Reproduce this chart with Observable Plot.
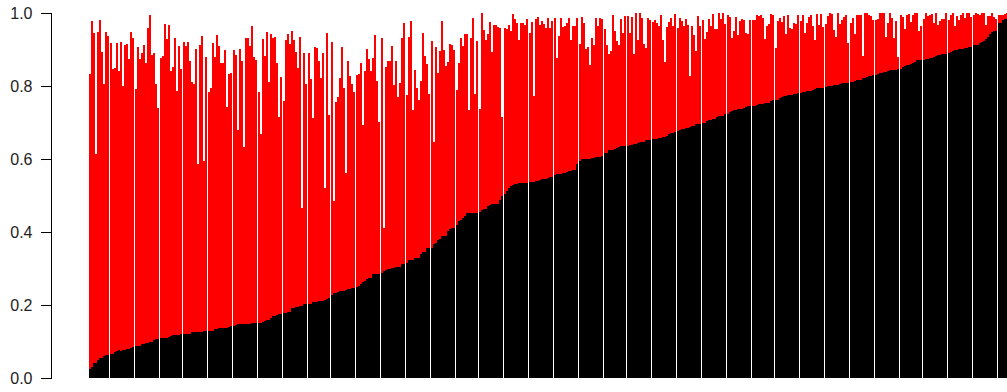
<!DOCTYPE html>
<html>
<head>
<meta charset="utf-8">
<script src="https://cdn.jsdelivr.net/npm/d3@7"></script>
<script src="https://cdn.jsdelivr.net/npm/@observablehq/plot@0.6"></script>
<style>
  html, body { margin: 0; padding: 0; background: #fff; }
  #chart svg { display: block; }
</style>
</head>
<body>
<div id="chart"></div>
<script>
// Lower (black) share of each bar, sorted ascending
const blackShare = [
  0.024,0.030,0.041,0.041,0.048,0.055,0.055,0.059,0.063,0.063,
  0.066,0.066,0.071,0.075,0.077,0.075,0.077,0.077,0.080,0.080,0.082,0.085,
  0.088,0.088,0.088,0.093,0.093,0.096,0.096,0.099,0.099,0.104,0.107,0.107,
  0.110,0.110,0.110,0.110,0.113,0.115,0.118,0.118,0.118,0.118,0.121,0.121,
  0.121,0.121,0.121,0.126,0.126,0.126,0.126,0.126,0.126,0.129,0.129,
  0.129,0.129,0.129,0.135,0.135,0.137,0.137,0.137,0.137,0.137,0.140,0.143,
  0.143,0.146,0.148,0.148,
  0.148,0.148,0.148,0.148,0.148,0.150,0.151,0.151,
  0.151,0.151,0.154,0.157,0.159,0.159,0.165,0.170,0.170,0.173,0.176,0.176,
  0.179,0.179,0.181,0.181,0.192,0.192,0.195,0.195,0.198,0.198,0.203,0.203,
  0.203,0.203,0.209,0.209,0.209,0.212,0.212,0.212,0.214,0.217,0.220,
  0.228,0.234,0.234,0.236,0.239,0.239,0.239,0.242,0.245,0.245,0.247,0.247,
  0.250,0.253,0.258,0.264,0.267,0.272,0.275,0.275,0.286,0.286,0.286,0.286,
  0.289,0.294,0.297,0.300,0.300,0.302,0.302,
  0.305,0.305,0.305,0.311,0.311,
  0.316,0.322,0.322,0.324,0.330,0.330,0.330,0.341,0.344,0.346,0.355,0.357,
  0.357,0.366,0.371,0.379,0.382,0.388,0.388,0.390,0.404,0.407,0.410,
  0.412,0.418,0.429,0.434,0.437,0.445,0.451,0.451,0.453,0.453,0.453,0.453,
  0.456,0.459,0.462,0.462,0.470,0.473,0.476,0.476,0.478,0.478,0.489,0.498,
  0.503,0.511,0.520,0.525,0.528,0.531,0.531,0.533,0.533,0.533,0.533,0.535,
  0.536,0.538,0.538,0.539,0.539,0.542,0.544,0.544,0.546,
  0.548,0.550,0.550,
  0.555,0.558,0.558,0.558,0.561,0.561,0.564,0.566,0.566,0.569,0.569,
  0.586,0.594,0.599,0.600,0.600,0.601,0.601,0.602,0.602,0.605,0.605,0.605,
  0.608,0.616,0.616,0.624,0.624,0.624,0.627,0.630,0.632,0.635,0.635,0.635,
  0.635,0.638,0.638,0.641,0.641,0.643,0.646,0.646,0.646,0.652,0.652,0.652,
  0.654,0.654,0.654,0.657,0.657,0.660,0.660,0.663,0.668,0.671,0.671,0.674,
  0.676,0.679,0.682,0.682,0.685,0.685,0.687,0.690,0.690,0.696,0.696,
  0.696,0.698,0.698,0.704,0.707,0.707,0.709,0.709,0.715,0.718,0.718,0.718,
  0.723,0.723,0.729,0.731,0.734,0.734,0.737,0.737,0.737,0.740,0.742,0.745,
  0.745,0.745,0.745,0.748,0.751,0.751,0.751,0.753,0.753,0.753,0.759,0.762,
  0.762,0.762,0.767,0.770,0.773,0.773,0.775,0.775,0.775,0.778,0.778,0.781,
  0.781,0.784,0.784,0.786,0.786,0.786,0.789,0.792,0.795,0.795,0.795,0.795,
  0.797,0.800,0.800,0.800,0.803,0.803,0.803,0.806,0.808,0.808,0.808,
  0.808,0.811,0.811,
  0.814,0.816,0.816,0.816,0.822,0.822,0.825,0.828,0.828,
  0.830,0.830,0.833,0.836,0.836,0.839,0.839,0.841,0.844,0.844,0.844,0.844,
  0.847,0.847,0.852,0.855,0.858,0.858,0.861,0.863,0.866,0.872,0.872,0.872,
  0.872,0.874,0.874,0.877,0.877,0.880,0.883,0.885,0.885,0.888,0.888,0.888,
  0.891,0.894,0.896,0.899,0.899,0.902,0.902,0.902,0.905,0.905,0.907,
  0.907,0.913,0.913,0.913,0.918,0.921,0.924,0.929,0.935,0.943,0.949,0.951,
  0.951,0.973,0.973,0.982,0.984,0.984
];

// Top of the red segment (black + red) for each bar
const redTop = [
  0.833,0.979,0.944,0.613,0.949,0.982,0.894,0.806,0.949,0.938,
  0.918,0.847,0.850,0.918,0.841,0.921,0.800,0.913,0.916,0.874,0.949,0.932,
  0.792,0.907,0.874,0.891,0.913,0.863,0.960,0.995,0.885,0.891,0.806,0.740,
  0.877,0.883,0.971,0.929,0.968,0.841,0.852,0.932,0.786,0.910,0.847,0.921,
  0.910,0.921,0.869,0.811,0.806,0.902,0.586,0.913,0.938,0.594,0.880,
  0.784,0.795,0.918,0.880,0.940,0.910,0.863,0.863,0.899,0.742,0.833,0.836,
  0.899,0.885,0.679,0.902,
  0.869,0.632,0.932,0.932,0.910,0.965,0.880,0.872,
  0.783,0.669,0.929,0.883,0.949,0.811,0.943,0.932,0.935,0.863,0.715,0.825,
  0.759,0.927,0.943,0.916,0.951,0.927,0.894,0.850,0.935,0.465,0.891,0.806,
  0.891,0.819,0.712,0.908,0.905,0.869,0.822,0.891,0.520,0.946,0.720,
  0.921,0.484,0.756,0.770,0.822,0.907,0.795,0.561,0.869,0.828,0.806,0.784,
  0.830,0.833,0.863,0.693,0.841,0.902,0.874,0.841,0.877,0.940,0.814,0.701,
  0.932,0.412,0.852,0.869,0.869,0.910,0.803,
  0.869,0.770,0.808,0.932,0.973,
  0.775,0.935,0.979,0.734,0.844,0.795,0.762,0.814,0.946,0.883,0.861,0.778,
  0.924,0.646,0.907,0.836,0.896,0.979,0.899,0.855,0.866,0.916,0.913,
  0.899,0.789,0.863,0.932,0.910,0.943,0.943,0.734,0.932,0.987,0.778,0.924,
  0.737,1.000,0.954,0.927,0.943,0.976,0.894,0.968,0.968,0.962,0.960,0.715,
  0.960,0.957,0.968,0.951,0.998,0.984,0.973,0.927,0.973,0.973,0.968,0.984,
  0.946,0.976,0.773,0.984,0.990,0.968,0.979,0.971,0.960,
  0.987,0.960,0.979,
  0.987,0.877,0.938,0.987,0.962,0.965,0.973,0.987,0.927,0.965,0.965,
  0.987,0.916,0.990,0.973,0.902,0.907,0.858,0.932,0.913,0.987,0.965,0.987,
  0.984,0.957,0.913,0.888,0.896,0.995,0.951,0.924,0.913,0.984,0.946,0.993,
  0.993,0.946,0.990,0.888,1.000,0.927,1.000,0.987,0.916,0.905,0.987,0.982,
  0.976,0.982,0.973,0.965,0.995,0.927,0.866,0.962,0.976,0.987,0.965,0.998,
  0.960,0.987,0.979,0.965,0.984,0.968,0.828,0.965,0.940,0.896,0.993,
  0.965,0.982,0.929,0.949,0.984,0.965,0.998,0.957,0.957,1.000,0.984,1.000,
  0.971,0.995,0.990,0.932,0.951,0.990,0.940,0.979,0.984,0.982,0.946,0.943,
  0.982,0.982,0.982,0.995,0.993,0.995,0.987,0.929,0.965,0.971,0.998,0.995,
  0.905,0.979,0.987,0.976,0.993,0.943,0.995,0.960,0.957,0.973,0.971,0.995,
  0.979,0.995,0.946,0.973,0.990,0.995,0.965,0.927,0.998,0.968,0.998,0.962,
  0.971,0.993,1.000,0.998,0.954,0.935,1.000,0.971,0.982,0.990,0.995,
  0.918,0.973,0.987,
  0.943,0.995,0.995,0.995,0.883,1.000,1.000,0.995,0.993,
  0.982,0.982,0.984,1.000,1.000,1.000,0.935,0.973,1.000,0.987,0.932,0.979,
  0.880,0.995,0.990,0.957,0.995,0.998,0.976,0.995,1.000,1.000,0.951,0.965,
  0.984,1.000,0.993,0.995,0.998,0.973,1.000,0.968,0.979,0.984,0.984,1.000,
  0.982,0.995,1.000,0.965,0.993,0.982,0.995,1.000,0.987,1.000,1.000,
  0.990,0.995,1.000,0.998,0.995,1.000,1.000,0.968,0.993,0.993,1.000,0.990,
  0.984,0.995,0.995,0.995,0.998,1.000
];

const yTicks = [0, 0.2, 0.4, 0.6, 0.8, 1.0];

if (blackShare.length !== redTop.length) throw new Error("length mismatch " + blackShare.length + " vs " + redTop.length);

const rows = blackShare.map((v, i) => ({ i, lo: v, hi: redTop[i] }));
const n = rows.length;

// bar layout (2px bars with a tiny gap, like the raster original)
const step = 2.0845, gap = 0.0845, start = 88.7;

const chart = Plot.plot({
  width: 1007,
  height: 392,
  marginLeft: 51,
  marginRight: 0,
  marginTop: 13,
  marginBottom: 14,
  style: { fontFamily: "'Liberation Sans', Arial, Helvetica, sans-serif", fontSize: "16px", background: "#fff", color: "#000" },
  x: { type: "band", domain: d3.range(n), range: [start, start + n * step - gap], paddingInner: gap / step, paddingOuter: 0, round: false, axis: null },
  y: { domain: [0, 1], label: null },
  marks: [
    Plot.barY(rows, { x: "i", y: "lo", fill: "#000", shapeRendering: "crispEdges" }),
    Plot.barY(rows, { x: "i", y1: "lo", y2: "hi", fill: "#ff0000", shapeRendering: "crispEdges" }),
    Plot.frame({ anchor: "left", stroke: "#000", strokeWidth: 1 }),
    Plot.axisY(yTicks, { tickSize: 10, tickPadding: 9, tickFormat: d3.format(".1f"), label: null, stroke: "#000", fill: "#222" })
  ]
});

document.getElementById("chart").appendChild(chart);
</script>
</body>
</html>
